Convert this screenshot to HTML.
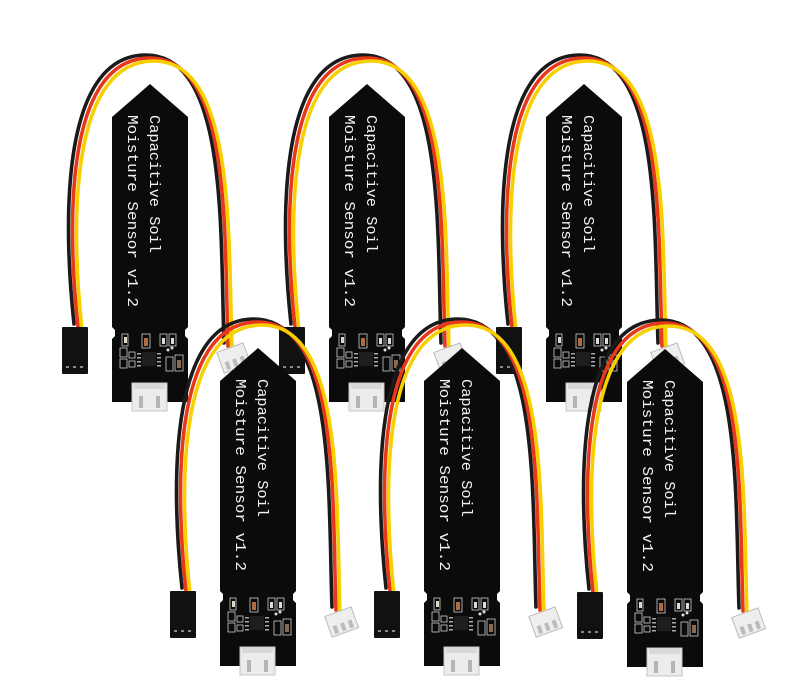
<!DOCTYPE html>
<html><head><meta charset="utf-8"><style>
html,body{margin:0;padding:0;background:#fff;}
svg{display:block;}
</style></head><body>
<svg width="811" height="699" viewBox="0 0 811 699" xmlns="http://www.w3.org/2000/svg">
<defs>
<g id="wires">
  <g fill="none" stroke-width="3.6" stroke-linecap="round">
    <path transform="translate(-4,-3)" stroke="#1a1a1a" d="M-34,243 C-44,150 -50,-26 38,-26 C120,-26 112,150 116,262"/>
    <path transform="translate(0,0)" stroke="#e8381c" d="M-34,243 C-44,150 -50,-26 38,-26 C120,-26 112,150 116,262"/>
    <path transform="translate(4,3)" stroke="#f6d000" d="M-34,243 C-44,150 -50,-26 38,-26 C120,-26 112,150 116,262"/>
  </g>
  <rect x="-50" y="243" width="26" height="47" fill="#111" rx="1"/>
  <rect x="-46" y="282" width="3" height="2" fill="#888"/><rect x="-39" y="282" width="3" height="2" fill="#888"/><rect x="-32" y="282" width="3" height="2" fill="#888"/>
  <g transform="rotate(-20 122 275)">
    <rect x="108" y="263" width="28" height="22" fill="#eeeeee" stroke="#bbb" stroke-width="1"/>
    <rect x="112" y="275" width="4" height="8" fill="#bbb"/><rect x="120" y="275" width="4" height="8" fill="#bbb"/><rect x="128" y="275" width="4" height="8" fill="#bbb"/>
  </g>
</g>
<g id="board">
  <polygon fill="#0b0b0b" points="0,33 38,0 76,33 76,243 73,246 73,252 76,255 76,318 0,318 0,255 3,252 3,246 0,243"/>
  <text x="0" y="0" transform="translate(38,31) rotate(90)" fill="#f2f2f2" font-family="Liberation Mono, monospace" font-size="15" textLength="138" lengthAdjust="spacingAndGlyphs">Capacitive Soil</text>
  <text x="0" y="0" transform="translate(16,31) rotate(90)" fill="#f2f2f2" font-family="Liberation Mono, monospace" font-size="15" textLength="192" lengthAdjust="spacingAndGlyphs">Moisture Sensor v1.2</text>
  <g fill="none" stroke="#cfcfcf" stroke-width="0.8">
    <rect x="10" y="250" width="6" height="12"/>
    <rect x="30" y="250" width="8" height="14"/>
    <rect x="48" y="250" width="7" height="12"/><rect x="57" y="250" width="7" height="12"/>
    <rect x="8" y="264" width="7" height="9"/><rect x="8" y="275" width="7" height="9"/>
    <rect x="17" y="268" width="6" height="6"/><rect x="17" y="277" width="6" height="6"/>
    <rect x="54" y="273" width="7" height="14"/><rect x="63" y="271" width="8" height="16"/>
  </g>
  <rect x="12" y="253" width="3" height="6" fill="#e0d8c8"/>
  <rect x="32" y="254" width="4" height="8" fill="#b06a40"/>
  <rect x="50" y="254" width="3" height="6" fill="#ddd"/><rect x="59" y="254" width="3" height="6" fill="#ddd"/>
  <rect x="65" y="276" width="4" height="8" fill="#8a6a50"/>
  <rect x="30" y="268" width="14" height="14" fill="#1e1e1e"/>
  <g fill="#aaa">
    <rect x="25" y="269" width="4" height="1.5"/><rect x="25" y="273" width="4" height="1.5"/><rect x="25" y="277" width="4" height="1.5"/><rect x="25" y="281" width="4" height="1.5"/>
    <rect x="45" y="269" width="4" height="1.5"/><rect x="45" y="273" width="4" height="1.5"/><rect x="45" y="277" width="4" height="1.5"/><rect x="45" y="281" width="4" height="1.5"/>
  </g>
  <circle cx="56" cy="266" r="1.5" fill="#ddd"/><circle cx="60" cy="264" r="1.5" fill="#ddd"/>
  <rect x="20" y="299" width="35" height="28" fill="#ececec" stroke="#c4c4c4" stroke-width="1"/>
  <rect x="22" y="300" width="31" height="5" fill="#d8d8d8"/>
  <rect x="27" y="312" width="4" height="12" fill="#b5b5b5"/><rect x="44" y="312" width="4" height="12" fill="#b5b5b5"/>
</g>
</defs>
<rect width="811" height="699" fill="#fff"/>
<use href="#wires" transform="translate(112,84)"/>
<use href="#wires" transform="translate(329,84)"/>
<use href="#wires" transform="translate(546,84)"/>
<use href="#board" transform="translate(112,84)"/>
<use href="#board" transform="translate(329,84)"/>
<use href="#board" transform="translate(546,84)"/>
<use href="#wires" transform="translate(220,348)"/>
<use href="#wires" transform="translate(424,348)"/>
<use href="#wires" transform="translate(627,349)"/>
<use href="#board" transform="translate(220,348)"/>
<use href="#board" transform="translate(424,348)"/>
<use href="#board" transform="translate(627,349)"/>
</svg>
</body></html>
